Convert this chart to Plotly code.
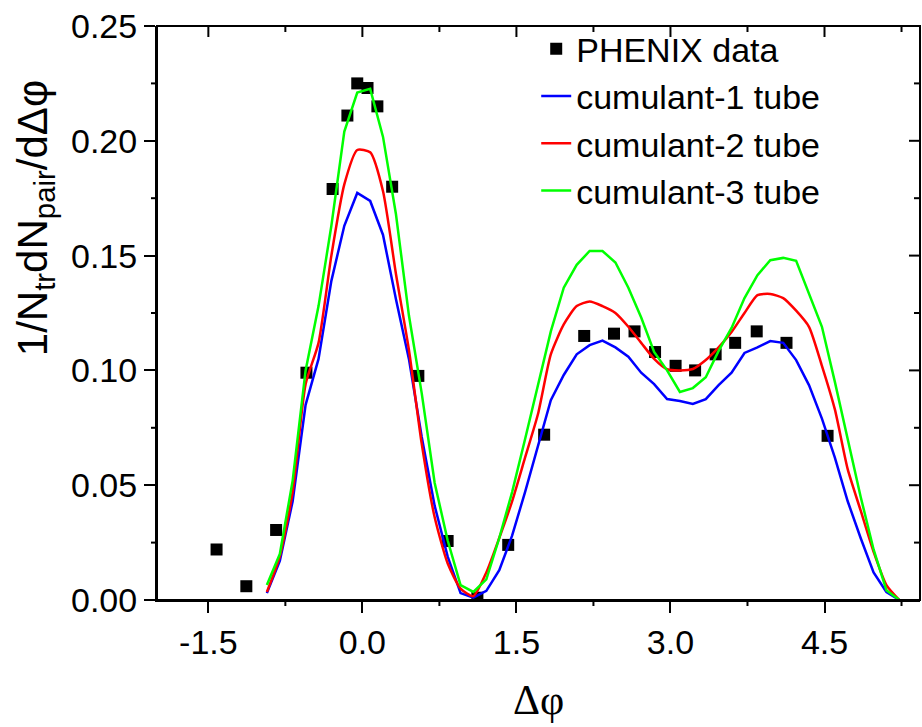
import plotly.graph_objects as go

# PHENIX data points
data_x = [-1.42, -1.13, -0.84, -0.545, -0.29, -0.146, -0.05, 0.05, 0.146, 0.29, 0.545, 0.83, 1.12,
          1.42, 1.77, 2.16, 2.45, 2.65, 2.85, 3.05, 3.24, 3.44, 3.63, 3.84, 4.13, 4.53]
data_y = [0.022, 0.006, 0.0305, 0.099, 0.179, 0.211, 0.225, 0.223, 0.215, 0.180, 0.0976, 0.0257, 0.001,
          0.024, 0.072, 0.115, 0.116, 0.117, 0.108, 0.102, 0.100, 0.107, 0.112, 0.117, 0.112, 0.0715]

# model grid
model_x = [-0.930, -0.804, -0.679, -0.553, -0.427, -0.302, -0.176, -0.050, 0.076, 0.201,
           0.327, 0.453, 0.578, 0.704, 0.830, 0.956, 1.081, 1.207, 1.333, 1.458,
           1.584, 1.710, 1.835, 1.961, 2.087, 2.213, 2.338, 2.464, 2.590, 2.715,
           2.841, 2.967, 3.092, 3.218, 3.344, 3.469, 3.595, 3.721, 3.847, 3.972,
           4.098, 4.224, 4.349, 4.475, 4.601, 4.726, 4.852, 4.978, 5.103, 5.229]

cum1 = [0.003, 0.017, 0.043, 0.085, 0.105, 0.139, 0.163, 0.1773, 0.1738, 0.159,
        0.131, 0.105, 0.071, 0.041, 0.019, 0.003, 0.001, 0.004, 0.013, 0.028,
        0.047, 0.067, 0.087, 0.098, 0.107, 0.111, 0.113, 0.110, 0.106, 0.099,
        0.094, 0.0875, 0.0867, 0.0854, 0.0875, 0.0936, 0.099, 0.1076, 0.110, 0.1128,
        0.112, 0.1045, 0.0936, 0.079, 0.062, 0.043, 0.027, 0.012, 0.0035, 0.0]

cum2 = [0.0035, 0.019, 0.047, 0.094, 0.112, 0.150, 0.181, 0.196, 0.195, 0.178,
        0.142, 0.109, 0.068, 0.036, 0.016, 0.005, 0.0017, 0.012, 0.027, 0.043,
        0.062, 0.081, 0.107, 0.120, 0.128, 0.130, 0.128, 0.125, 0.119, 0.112,
        0.105, 0.1005, 0.100, 0.1006, 0.1045, 0.110, 0.1167, 0.125, 0.1328, 0.1333,
        0.1315, 0.126, 0.119, 0.102, 0.083, 0.057, 0.039, 0.021, 0.0065, 0.0]

cum3 = [0.0065, 0.020, 0.052, 0.100, 0.128, 0.163, 0.204, 0.221, 0.2226, 0.2017,
        0.168, 0.124, 0.090, 0.051, 0.026, 0.0065, 0.0035, 0.009, 0.027, 0.047,
        0.070, 0.093, 0.117, 0.136, 0.146, 0.152, 0.152, 0.147, 0.136, 0.123,
        0.108, 0.100, 0.0906, 0.0923, 0.097, 0.1085, 0.1185, 0.1315, 0.1415, 0.148,
        0.149, 0.1477, 0.1337, 0.119, 0.095, 0.070, 0.045, 0.022, 0.0043, 0.0]

x_tickvals = [-1.5, 0.0, 1.5, 3.0, 4.5]
x_ticktext = ["-1.5", "0.0", "1.5", "3.0", "4.5"]
x_minorvals = [-0.75, 0.75, 2.25, 3.75, 5.25]
y_tickvals = [0.0, 0.05, 0.10, 0.15, 0.20, 0.25]
y_ticktext = ["0.00", "0.05", "0.10", "0.15", "0.20", "0.25"]
y_minorvals = [0.025, 0.075, 0.125, 0.175, 0.225]

FONT = "Liberation Sans, Arial, sans-serif"

xr = [-2.0, 5.43]
yr = [0.0, 0.25]

PLOT_W = 922 - 157 - 2
PLOT_H = 727 - 26 - 127
MAJ, MIN = 11, 6

fig = go.Figure()
fig.add_trace(go.Scatter(x=data_x, y=data_y, mode="markers", name="PHENIX data",
                         marker=dict(symbol="square", size=12, color="black")))
fig.add_trace(go.Scatter(x=model_x, y=cum1, mode="lines", name="cumulant-1 tube",
                         line=dict(color="#0000FF", width=2.5)))
fig.add_trace(go.Scatter(x=model_x, y=cum2, mode="lines", name="cumulant-2 tube",
                         line=dict(color="#FF0000", width=2.5, shape="spline", smoothing=0.6)))
fig.add_trace(go.Scatter(x=model_x, y=cum3, mode="lines", name="cumulant-3 tube",
                         line=dict(color="#00FF00", width=2.5)))

base = dict(showgrid=False, zeroline=False, tickcolor="black", tickwidth=2,
            showline=True, linecolor="black", linewidth=2, ticks="outside", ticklen=MAJ)

fig.update_layout(
    width=922, height=727,
    margin=dict(l=157, r=2, t=26, b=127),
    paper_bgcolor="white", plot_bgcolor="white",
    font=dict(family=FONT, color="black", size=34),
    xaxis=dict(range=xr, tickvals=x_tickvals, ticktext=x_ticktext,
               tickfont=dict(size=34, family=FONT), **base),
    yaxis=dict(range=yr, tickvals=y_tickvals, ticktext=y_ticktext,
               tickfont=dict(size=34, family=FONT), **base),
    legend=dict(x=0.497, y=1.010, xanchor="left", yanchor="top", bgcolor="rgba(0,0,0,0)",
                font=dict(size=34, family=FONT), tracegroupgap=0),
    showlegend=True,
)

tick_line = dict(color="black", width=2)
# frame (top / right sides)
fig.add_shape(type="rect", xref="paper", yref="paper", x0=0, x1=1, y0=0, y1=1,
              line=tick_line, layer="above")
# x ticks: minor outside at bottom; major/minor inside at top
for v in x_minorvals:
    fig.add_shape(type="line", xref="x", yref="paper", x0=v, x1=v, y0=0, y1=-MIN / PLOT_H, line=tick_line)
    fig.add_shape(type="line", xref="x", yref="paper", x0=v, x1=v, y0=1, y1=1 - MIN / PLOT_H, line=tick_line)
for v in x_tickvals:
    fig.add_shape(type="line", xref="x", yref="paper", x0=v, x1=v, y0=1, y1=1 - MAJ / PLOT_H, line=tick_line)
# y ticks: minor outside at left; major/minor inside at right
for v in y_minorvals:
    fig.add_shape(type="line", xref="paper", yref="y", x0=0, x1=-MIN / PLOT_W, y0=v, y1=v, line=tick_line)
    fig.add_shape(type="line", xref="paper", yref="y", x0=1, x1=1 - MIN / PLOT_W, y0=v, y1=v, line=tick_line)
for v in y_tickvals:
    fig.add_shape(type="line", xref="paper", yref="y", x0=1, x1=1 - MAJ / PLOT_W, y0=v, y1=v, line=tick_line)

fig.add_annotation(text="1/N<sub>tr</sub>dN<sub>pair</sub>/dΔφ", xref="paper", yref="paper",
                   x=-0.16, y=0.665, xanchor="center", yanchor="middle", textangle=-90,
                   showarrow=False, font=dict(size=42, family=FONT))
fig.add_annotation(text="Δφ", xref="paper", yref="paper", x=0.5, y=-0.174,
                   xanchor="center", yanchor="middle", showarrow=False,
                   font=dict(size=42, family="Liberation Serif, Times New Roman, serif"))

fig.write_html("out.html")
